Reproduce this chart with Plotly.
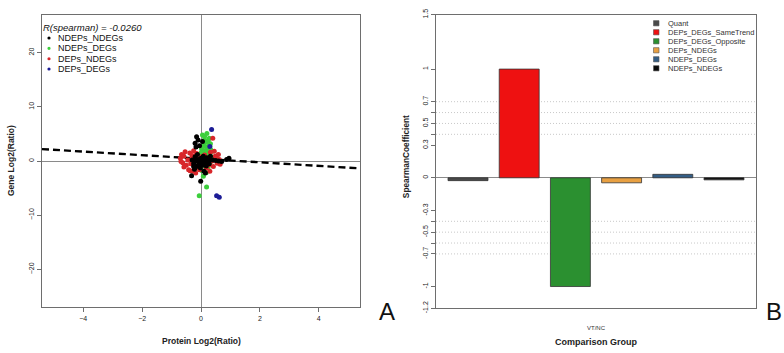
import plotly.graph_objects as go

W, H = 784, 353
FONT = "Liberation Sans, Arial, sans-serif"

# ---------------- Panel A data ----------------
ndeps_ndegs_x = [-0.3, -0.25, -0.2, -0.15, -0.1, -0.05, 0.0, 0.05, 0.1, 0.15, 0.2, 0.25, 0.3,
                 -0.22, -0.12, -0.02, 0.08, 0.18, 0.28, -0.18, -0.08, 0.02, 0.12, 0.22,
                 -0.15, -0.2, -0.1, 0.05, -0.17, -0.05, 0.4, 0.5, 0.6, 0.7, 0.87, 0.95,
                 -0.32, -0.01, 0.1, -0.25, 0.15, 0.32]
ndeps_ndegs_y = [0.2, -0.5, 0.8, -1.0, 0.3, -0.2, 0.5, -0.8, 0.1, -0.4, 0.6, -0.1, 0.3,
                 -1.5, 1.2, -1.3, 0.9, -0.9, -0.5, 0.0, -0.6, 0.0, 0.4, 0.2,
                 4.5, 3.3, 3.9, 3.6, 2.6, 2.8, 0.2, 0.1, 0.0, -0.1, 0.3, 0.5,
                 -2.7, -3.75, -1.9, -1.0, -2.2, 0.9]

ndeps_degs_x = [0.05, 0.12, 0.2, 0.28, 0.1, 0.18, 0.25, 0.32, 0.08, 0.15, 0.22, 0.3, 0.02,
                0.12, 0.2, 0.38, 0.06, 0.16, 0.26, 0.35, 0.1, 0.22, 0.3, 0.14, -0.05, 0.04,
                0.18, 0.24, -0.06, 0.19, 0.08, 0.14, 0.28, 0.33, 0.0]
ndeps_degs_y = [4.8, 4.5, 5.1, 4.2, 3.8, 3.5, 3.9, 3.2, 2.9, 2.7, 2.4, 2.6, 2.2,
                1.9, 1.6, 1.8, 1.2, 1.0, 1.4, 0.8, 0.5, 0.3, -0.4, -0.9, -1.4, -1.8,
                -2.1, -1.2, -6.4, -4.8, -2.8, 0.2, 3.0, 2.1, 1.5]

deps_ndegs_x = [-0.7, -0.66, -0.62, -0.58, -0.54, -0.5, -0.45, -0.42, -0.38, -0.35, -0.3, -0.28,
                -0.25, -0.22, -0.2, -0.15, -0.12, -0.1, -0.05, 0.02, 0.08, 0.12, 0.18, 0.22,
                0.28, 0.32, 0.38, 0.42, 0.48, 0.55, 0.59, 0.62, 0.65, -0.58, -0.37, -0.3,
                0.3, 0.45, 0.4, -0.18, 0.52, -0.68]
deps_ndegs_y = [0.5, 1.2, -0.3, 0.9, 1.7, -0.8, 0.2, -1.6, 1.5, -0.5, 0.7, -1.9, 1.9, -1.2,
                0.1, 1.4, -0.9, 0.4, -1.6, 0.8, -0.3, 1.1, -1.3, 0.5, -0.7, 1.6, 0.0, -1.0,
                0.9, -0.4, 1.2, 0.3, -0.6, -1.1, -1.8, 1.0, -1.9, 1.8, 4.2, -2.2, 0.6, -0.1]

deps_degs_x = [0.36, 0.3, 0.53, 0.62]
deps_degs_y = [5.8, 2.7, -6.4, -6.7]

r_spearman = -0.0260
fit_intercept = 0.42
fit_slope = -0.33
fit_x = [-5.4, 5.4]

scatter_groups = ["NDEPs_NDEGs", "NDEPs_DEGs", "DEPs_NDEGs", "DEPs_DEGs"]
scatter_colors = ["#000000", "#3ccf3c", "#d8262a", "#1c1c96"]

x_ticks_a = [-4, -2, 0, 2, 4]
y_ticks_a = [-20, -10, 0, 10, 20]

# ---------------- Panel B data ----------------
comparison = "VT/NC"
bar_groups = ["Quant", "DEPs_DEGs_SameTrend", "DEPs_DEGs_Opposite",
              "DEPs_NDEGs", "NDEPs_DEGs", "NDEPs_NDEGs"]
bar_values = [-0.026, 1.0, -1.0, -0.046, 0.032, -0.019]
bar_colors = ["#4a4a4a", "#ee1111", "#2b9030", "#e8a042", "#345e86", "#0a0a0a"]
y_tickvals_b = [1.5, 1, 0.7, 0.6, 0.5, 0.4, 0.3, 0, -0.3, -0.4, -0.5, -0.6, -0.7, -1, -1.2]
y_ticktext_b = ["1.5", "1", "0.7", "", "0.5", "", "0.3", "0", "-0.3", "", "-0.5", "", "-0.7", "-1", "-1.2"]
grid_b = [0.7, 0.6, 0.5, 0.4, -0.4, -0.5, -0.6, -0.7]


def px(x):
    return x / W


def py(y):
    return 1 - y / H


fig = go.Figure()

# regression line
fig.add_trace(go.Scatter(
    x=fit_x, y=[fit_intercept + fit_slope * v for v in fit_x],
    mode="lines", line=dict(color="black", width=2.4, dash="7px,4px"),
    xaxis="x", yaxis="y", showlegend=False, hoverinfo="skip"))

order = [1, 2, 0, 3]
xs = [ndeps_ndegs_x, ndeps_degs_x, deps_ndegs_x, deps_degs_x]
ys = [ndeps_ndegs_y, ndeps_degs_y, deps_ndegs_y, deps_degs_y]
for i in order:
    fig.add_trace(go.Scatter(
        x=xs[i], y=ys[i], mode="markers", name=scatter_groups[i],
        marker=dict(color=scatter_colors[i], size=5),
        xaxis="x", yaxis="y", showlegend=False))

for name, val, col in zip(bar_groups, bar_values, bar_colors):
    fig.add_trace(go.Bar(
        x=[comparison], y=[val], name=name,
        marker=dict(color=col, line=dict(color="#333333", width=0.8)),
        xaxis="x2", yaxis="y2", showlegend=False))

axis_common = dict(showline=True, mirror=True, linecolor="#6e6e6e", linewidth=1,
                   ticks="outside", ticklen=4, tickcolor="#6e6e6e", showgrid=False,
                   tickfont=dict(size=7, color="#222", family=FONT))

shapes = []
for v in grid_b:
    shapes.append(dict(type="line", xref="x2 domain", yref="y2", x0=0, x1=1, y0=v, y1=v,
                       line=dict(color="#c8c8c8", width=1, dash="1px,2px"), layer="below"))

annotations = []
# Panel A legend
annotations.append(dict(text="<i>R(spearman) = %.4f</i>" % r_spearman, x=px(41), y=py(22),
                        xref="paper", yref="paper", xanchor="left", yanchor="middle",
                        showarrow=False, font=dict(size=9.5, color="#111", family=FONT)))
leg_a_y = [33, 43.7, 54.4, 65.1]
for name, col, yy in zip(scatter_groups, scatter_colors, leg_a_y):
    annotations.append(dict(text=name, x=px(56), y=py(yy), xref="paper", yref="paper",
                            xanchor="left", yanchor="middle", showarrow=False,
                            font=dict(size=9, color="#111", family=FONT)))
    shapes.append(dict(type="circle", xref="paper", yref="paper",
                       x0=px(47.4), x1=px(50.6), y0=py(yy + 1.6), y1=py(yy - 1.6),
                       fillcolor=col, line=dict(width=0)))
# Panel B legend
leg_b_y = [17.8, 27.1, 36.4, 45.7, 55.0, 64.3]
for name, col, yy in zip(bar_groups, bar_colors, leg_b_y):
    annotations.append(dict(text=name, x=px(666), y=py(yy), xref="paper", yref="paper",
                            xanchor="left", yanchor="middle", showarrow=False,
                            font=dict(size=7.5, color="#333", family=FONT)))
    shapes.append(dict(type="rect", xref="paper", yref="paper",
                       x0=px(653.5), x1=px(659), y0=py(yy + 2.7), y1=py(yy - 2.7),
                       fillcolor=col, line=dict(width=0.6, color="#555")))

# axis titles
annotations += [
    dict(text="<b>Gene Log2(Ratio)</b>", x=px(11), y=py(160), textangle=-90,
         font=dict(size=8.5, color="#222", family=FONT)),
    dict(text="<b>Protein Log2(Ratio)</b>", x=px(201), y=py(346),
         font=dict(size=8.5, color="#222", family=FONT)),
    dict(text="<b>SpearmanCoefficient</b>", x=px(406), y=py(156), textangle=-90,
         font=dict(size=8.3, color="#222", family=FONT)),
    dict(text="<b>Comparison Group</b>", x=px(596), y=py(347),
         font=dict(size=9, color="#222", family=FONT)),
    dict(text="A", x=px(387), y=py(315), font=dict(size=24, color="#111", family=FONT)),
    dict(text="B", x=px(774), y=py(315), font=dict(size=24, color="#111", family=FONT)),
]
for a in annotations[-6:]:
    a.update(xref="paper", yref="paper", showarrow=False, xanchor="center", yanchor="middle")

fig.update_layout(
    width=W, height=H, margin=dict(l=0, r=0, t=0, b=0),
    paper_bgcolor="white", plot_bgcolor="white",
    font=dict(family=FONT),
    barmode="group", bargap=0.04, bargroupgap=0.22,
    showlegend=False,
    xaxis=dict(domain=[px(42), px(360)], range=[-5.4, 5.4], tickvals=x_ticks_a,
               zeroline=True, zerolinecolor="#8a8a8a", zerolinewidth=1, anchor="y",
               **axis_common),
    yaxis=dict(domain=[py(311), py(9)], range=[-27, 27], tickvals=y_ticks_a, tickangle=-90,
               zeroline=True, zerolinecolor="#8a8a8a", zerolinewidth=1, anchor="x",
               **axis_common),
    xaxis2=dict(domain=[px(436), px(756)], type="category", range=[-0.5, 0.5], anchor="y2",
                showline=True, mirror=True, linecolor="#6e6e6e", linewidth=1,
                ticks="outside", ticklen=14, tickcolor="rgba(0,0,0,0)", showgrid=False,
                tickfont=dict(size=6, color="#333", family=FONT)),
    yaxis2=dict(domain=[py(312), py(9)], range=[-1.2, 1.5], tickvals=y_tickvals_b,
                ticktext=y_ticktext_b, tickangle=-90, anchor="x2",
                zeroline=True, zerolinecolor="#8a8a8a", zerolinewidth=1, **axis_common),
    shapes=shapes, annotations=annotations,
)

fig.write_html(
    "out.html",
    config={"displayModeBar": False},
    post_script="document.body.style.margin='0';document.body.style.overflow='hidden';",
)
